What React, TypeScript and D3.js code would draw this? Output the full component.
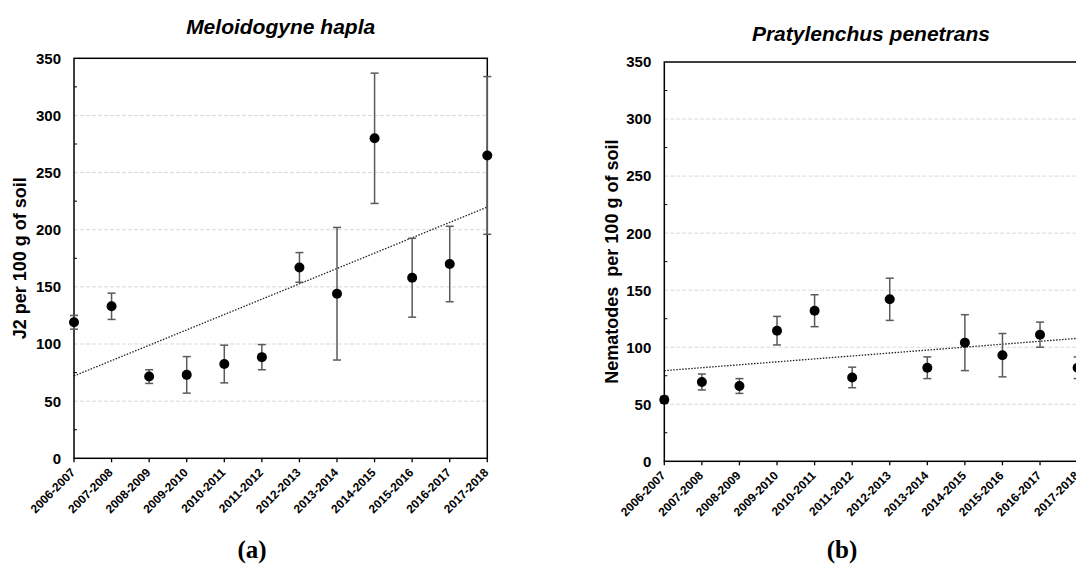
import * as d3 from "d3";

const seasons = [
  "2006-2007", "2007-2008", "2008-2009", "2009-2010", "2010-2011", "2011-2012",
  "2012-2013", "2013-2014", "2014-2015", "2015-2016", "2016-2017", "2017-2018",
];

// Meloidogyne hapla: mean J2 per 100 g soil and error
const haplaMean = [119, 133, 71.5, 73, 82.5, 88.5, 167, 144, 280, 158, 170, 265];
const haplaErr = [6, 11.5, 6, 16, 16.5, 11, 13, 58, 57, 34.5, 33, 69];

// Pratylenchus penetrans: mean nematodes per 100 g soil and error
const penetransMean = [54, 69.5, 66, 114.5, 132, 73.5, 142, 82, 104, 93, 111, 82];
const penetransErr = [3, 7, 6.5, 12.5, 14, 9, 18.5, 9.5, 24.5, 19, 11, 9.5];

const yTicks = [0, 50, 100, 150, 200, 250, 300, 350];
const yMinor = [25, 75, 125, 175, 225, 275, 325];
const gridTicks = [50, 100, 150, 200, 250, 300];

const font = "'Liberation Sans', Arial, sans-serif";

type PanelProps = {
  left: number; right: number; top: number; bottom: number;
  title: string; titleY: number;
  yLabel: string; yLabelX: number;
  caption: string; captionX: number;
  means: number[]; errs: number[];
};

const Panel = (props: PanelProps) => {
  const { left, right, top, bottom, means, errs } = props;

  const x = d3.scalePoint<string>().domain(seasons).range([left, right]);
  const y = d3.scaleLinear().domain([0, 350]).range([bottom, top]);

  // least squares trend line over season index
  const idx = means.map((_, i) => i);
  const mx = d3.mean(idx) as number;
  const my = d3.mean(means) as number;
  const slope = d3.sum(idx, i => (i - mx) * (means[i] - my)) / d3.sum(idx, i => (i - mx) ** 2);
  const icpt = my - slope * mx;
  const trend = d3.line<number>()
    .x(i => x(seasons[i]) as number)
    .y(i => y(icpt + slope * i));

  const midX = (left + right) / 2;
  const midY = (top + bottom) / 2;

  return (
    <g>
      <text x={midX} y={props.titleY} textAnchor="middle" fontFamily={font}
        fontSize={21} fontWeight="bold" fontStyle="italic">{props.title}</text>

      {gridTicks.map(t => (
        <line key={"g" + t} x1={left} x2={right} y1={y(t)} y2={y(t)}
          stroke="#d9d9d9" strokeWidth={1} strokeDasharray="4,2" />
      ))}

      {yMinor.map(t => (
        <line key={"m" + t} x1={left} x2={left + 3} y1={y(t)} y2={y(t)} stroke="#000" strokeWidth={1} />
      ))}

      {yTicks.map(t => (
        <text key={"t" + t} x={left - 13} y={y(t)} dy="0.36em" textAnchor="end"
          fontFamily={font} fontSize={15} fontWeight="bold">{t}</text>
      ))}

      <path d={trend([0, seasons.length - 1]) as string} fill="none" stroke="#222"
        strokeWidth={1.3} strokeDasharray="1.5,1.5" />

      <rect x={left} y={top} width={right - left} height={bottom - top}
        fill="none" stroke="#000" strokeWidth={1.5} />

      {seasons.map(s => (
        <g key={s}>
          <line x1={x(s)} x2={x(s)} y1={bottom} y2={bottom + 4} stroke="#000" strokeWidth={1.3} />
          <text transform={`translate(${(x(s) as number) + 2},${bottom + 15}) rotate(-45)`}
            textAnchor="end" fontFamily={font} fontSize={12} fontWeight="bold">{s}</text>
        </g>
      ))}

      {means.map((m, i) => {
        const cx = x(seasons[i]) as number;
        const hi = y(m + errs[i]);
        const lo = y(m - errs[i]);
        return (
          <g key={"p" + i}>
            <line x1={cx} x2={cx} y1={hi} y2={lo} stroke="#5a5a5a" strokeWidth={1.5} />
            <line x1={cx - 4} x2={cx + 4} y1={hi} y2={hi} stroke="#5a5a5a" strokeWidth={1.5} />
            <line x1={cx - 4} x2={cx + 4} y1={lo} y2={lo} stroke="#5a5a5a" strokeWidth={1.5} />
            <circle cx={cx} cy={y(m)} r={5} fill="#000" />
          </g>
        );
      })}

      <text transform={`translate(${props.yLabelX},${midY}) rotate(-90)`} textAnchor="middle"
        fontFamily={font} fontSize={18} fontWeight="bold" style={{ whiteSpace: "pre" }}>{props.yLabel}</text>

      <text x={props.captionX} y={558} textAnchor="middle"
        fontFamily="'Liberation Serif', 'DejaVu Serif', serif" fontSize={25} fontWeight="bold">{props.caption}</text>
    </g>
  );
};

export default function App() {
  return (
    <svg width={1076} height={565} style={{ position: "absolute", left: 0, top: 0, background: "#fff" }}>
      <Panel left={74} right={487.3} top={58.3} bottom={458.3}
        title="Meloidogyne hapla" titleY={34}
        yLabel="J2 per 100 g of soil" yLabelX={26}
        caption="(a)" captionX={252}
        means={haplaMean} errs={haplaErr} />
      <Panel left={664.3} right={1077.6} top={62} bottom={461.3}
        title="Pratylenchus penetrans" titleY={41}
        yLabel="Nematodes  per 100 g of soil" yLabelX={618}
        caption="(b)" captionX={842}
        means={penetransMean} errs={penetransErr} />
    </svg>
  );
}
